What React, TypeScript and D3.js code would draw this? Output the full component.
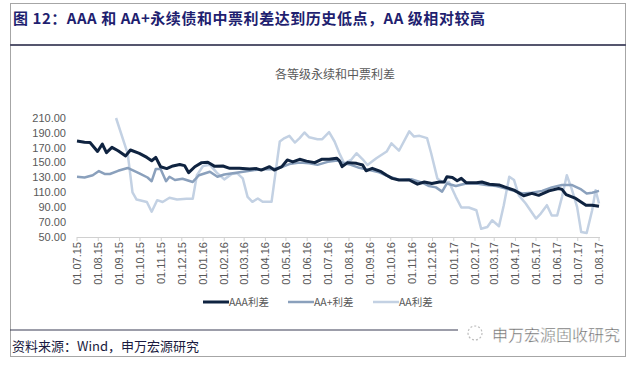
import React from "react";
import * as d3 from "d3";

// Spread data (bp)
const aaaSpread: [string, number][] = [
  ["2015-07-01", 179], ["2015-07-12", 177.5], ["2015-07-20", 177], ["2015-07-31", 165],
  ["2015-08-07", 175], ["2015-08-13", 163.5], ["2015-08-21", 170.5], ["2015-08-30", 166],
  ["2015-09-10", 159], ["2015-09-17", 167], ["2015-09-30", 162.5], ["2015-10-11", 157],
  ["2015-10-18", 152.5], ["2015-10-24", 157], ["2015-10-31", 144.5], ["2015-11-09", 142],
  ["2015-11-18", 145.5], ["2015-11-28", 147.5], ["2015-12-05", 146], ["2015-12-11", 136.5],
  ["2015-12-20", 144.5], ["2015-12-30", 150], ["2016-01-08", 150.5], ["2016-01-18", 145],
  ["2016-01-30", 145.5], ["2016-02-09", 142.3], ["2016-02-23", 142.3], ["2016-03-09", 141.4],
  ["2016-03-19", 142], ["2016-03-26", 140], ["2016-04-07", 144.6], ["2016-04-14", 140],
  ["2016-04-25", 144.6], ["2016-05-03", 153.6], ["2016-05-11", 151], ["2016-05-21", 154.5],
  ["2016-05-31", 152], ["2016-06-12", 150], ["2016-06-22", 154.5], ["2016-07-03", 154.5],
  ["2016-07-14", 156], ["2016-07-18", 152.7], ["2016-07-22", 144.6], ["2016-07-30", 150],
  ["2016-08-12", 149], ["2016-08-21", 146.8], ["2016-08-26", 139], ["2016-09-04", 142.3],
  ["2016-09-17", 137.8], ["2016-09-25", 133], ["2016-10-03", 128.8], ["2016-10-13", 126.6],
  ["2016-10-28", 126.6], ["2016-11-09", 121], ["2016-11-19", 124], ["2016-11-30", 122],
  ["2016-12-11", 124], ["2016-12-18", 124], ["2016-12-22", 131], ["2016-12-30", 130],
  ["2017-01-06", 125.7], ["2017-01-12", 128.8], ["2017-01-19", 123], ["2017-02-03", 123],
  ["2017-02-11", 124], ["2017-02-22", 121], ["2017-03-08", 120], ["2017-03-18", 116.7],
  ["2017-03-30", 113], ["2017-04-13", 105.4], ["2017-04-25", 108.6], ["2017-05-05", 106],
  ["2017-05-20", 112], ["2017-06-03", 115.3], ["2017-06-08", 114], ["2017-06-14", 107],
  ["2017-06-28", 101.8], ["2017-07-13", 92.8], ["2017-07-22", 92.8], ["2017-08-01", 91.4],
];

const aaPlusSpread: [string, number][] = [
  ["2015-07-01", 131], ["2015-07-12", 130], ["2015-07-24", 133], ["2015-08-02", 138.7],
  ["2015-08-11", 134.7], ["2015-08-18", 134.7], ["2015-08-30", 139], ["2015-09-13", 142.8],
  ["2015-09-30", 135.6], ["2015-10-12", 130], ["2015-10-18", 125], ["2015-10-24", 141.4],
  ["2015-10-31", 141.4], ["2015-11-08", 125], ["2015-11-13", 131], ["2015-11-21", 126.6],
  ["2015-12-02", 128.4], ["2015-12-17", 124], ["2015-12-26", 133], ["2016-01-11", 137.8],
  ["2016-01-22", 131], ["2016-02-01", 134], ["2016-02-16", 136], ["2016-03-02", 138],
  ["2016-03-16", 140], ["2016-03-31", 141], ["2016-04-10", 141], ["2016-04-22", 143],
  ["2016-05-06", 148], ["2016-05-21", 150], ["2016-06-04", 149], ["2016-06-16", 147],
  ["2016-07-01", 151], ["2016-07-15", 153], ["2016-07-25", 149], ["2016-08-04", 147],
  ["2016-08-16", 143], ["2016-08-31", 140], ["2016-09-14", 137], ["2016-09-29", 131],
  ["2016-10-13", 127], ["2016-11-01", 127.5], ["2016-11-16", 123], ["2016-11-26", 118.5],
  ["2016-12-06", 116.7], ["2016-12-15", 111], ["2016-12-22", 122], ["2017-01-04", 118.5],
  ["2017-01-19", 122], ["2017-02-03", 122], ["2017-02-17", 120], ["2017-03-04", 118.5],
  ["2017-03-18", 115.3], ["2017-03-30", 112], ["2017-04-11", 108.6], ["2017-04-25", 109.5],
  ["2017-05-10", 112], ["2017-05-24", 116.7], ["2017-06-08", 120], ["2017-06-22", 120],
  ["2017-07-06", 114], ["2017-07-14", 108.6], ["2017-07-22", 109.5], ["2017-08-01", 112],
];

const aaSpread: [string, number][] = [
  ["2015-08-27", 210], ["2015-09-13", 162], ["2015-09-20", 110], ["2015-09-26", 100.4],
  ["2015-10-11", 97], ["2015-10-18", 84], ["2015-10-26", 99.5], ["2015-11-03", 97],
  ["2015-11-13", 102.7], ["2015-11-24", 100.4], ["2015-12-08", 101.4], ["2015-12-17", 101.4],
  ["2015-12-23", 133], ["2016-01-01", 145.5], ["2016-01-11", 147], ["2016-01-21", 136.5],
  ["2016-02-01", 127.5], ["2016-02-12", 134.7], ["2016-02-20", 135.6], ["2016-02-28", 128.8],
  ["2016-03-06", 104], ["2016-03-13", 97.3], ["2016-03-21", 101.8], ["2016-03-28", 97.3],
  ["2016-04-10", 97.3], ["2016-04-17", 144.6], ["2016-04-22", 178.4], ["2016-04-29", 183],
  ["2016-05-06", 186], ["2016-05-14", 177], ["2016-05-21", 183], ["2016-05-28", 190.5],
  ["2016-06-04", 184], ["2016-06-16", 181.5], ["2016-06-23", 181.5], ["2016-07-03", 191],
  ["2016-07-11", 178.4], ["2016-07-18", 162.6], ["2016-07-25", 149], ["2016-08-04", 153.6],
  ["2016-08-12", 162.6], ["2016-08-21", 154.5], ["2016-08-28", 146.8], ["2016-09-10", 155.9],
  ["2016-09-25", 164.9], ["2016-10-02", 176], ["2016-10-13", 166], ["2016-10-28", 192],
  ["2016-11-04", 185], ["2016-11-12", 186], ["2016-11-23", 183], ["2016-11-29", 162.6],
  ["2016-12-08", 128.8], ["2016-12-15", 124], ["2016-12-25", 124], ["2017-01-04", 104],
  ["2017-01-12", 89.6], ["2017-01-23", 89.6], ["2017-02-03", 86], ["2017-02-10", 61],
  ["2017-02-19", 63.5], ["2017-02-26", 72.5], ["2017-03-08", 64.4], ["2017-03-15", 92.8],
  ["2017-03-23", 131], ["2017-03-30", 126.6], ["2017-04-06", 106], ["2017-04-16", 95],
  ["2017-05-01", 74.8], ["2017-05-08", 81.5], ["2017-05-17", 92.8], ["2017-05-24", 79],
  ["2017-06-01", 79], ["2017-06-08", 104], ["2017-06-15", 133], ["2017-06-22", 115],
  ["2017-06-30", 90.5], ["2017-07-06", 56.8], ["2017-07-14", 55.4], ["2017-07-22", 86],
  ["2017-07-27", 113], ["2017-08-01", 95],
];

const seriesNames = ["AAA利差", "AA+利差", "AA利差"];
const seriesColors = ["#0f2340", "#8aa0bc", "#c3d1e3"];
const seriesWidths = [3, 2.5, 2.5];
const yTicks = [50, 70, 90, 110, 130, 150, 170, 190, 210];

const titleText = "图 12：AAA 和 AA+永续债和中票利差达到历史低点，AA 级相对较高";
const chartTitle = "各等级永续和中票利差";
const sourceText = "资料来源：Wind，申万宏源研究";
const watermark = "申万宏源固收研究";

const parse = d3.timeParse("%Y-%m-%d");
const fmt = d3.timeFormat("%d.%m.%y");

const App: React.FC = () => {
  const width = 640;
  const height = 365;
  const x = d3
    .scaleTime()
    .domain([parse("2015-07-01")!, parse("2017-08-01")!])
    .range([77, 599]);
  const y = d3.scaleLinear().domain([50, 210]).range([237, 118]);

  const line = d3
    .line<[string, number]>()
    .x((d) => x(parse(d[0])!))
    .y((d) => y(d[1]));

  const all = [aaaSpread, aaPlusSpread, aaSpread];
  const monthTicks = d3.timeMonth.range(parse("2015-07-01")!, parse("2017-08-02")!);
  const axisFont = "Liberation Sans, Arial, sans-serif";
  const cjkFont = "'Noto Sans CJK SC', sans-serif";

  const legendX = [203, 288, 373];

  return (
    <div style={{ position: "absolute", left: 0, top: 0 }}>
      <svg width={width} height={height} style={{ display: "block", background: "#fff" }}>
        {/* frame */}
        <rect x={10.5} y={3.5} width={615} height={353} fill="none" stroke="#a6a6a6" strokeWidth={1} />
        <line x1={10} x2={626} y1={45} y2={45} stroke="#55566e" strokeWidth={2} />
        <line x1={10} x2={458} y1={330} y2={330} stroke="#3b3c55" strokeWidth={1.2} />

        <text x={13} y={24} fontFamily={cjkFont} fontWeight="bold" fontSize={15} fill="#1f1f70" textLength={472}>
          {titleText}
        </text>

        <text x={335} y={79} textAnchor="middle" fontFamily={cjkFont} fontSize={12} fill="#595959">
          {chartTitle}
        </text>

        {/* y labels */}
        {yTicks.map((t) => (
          <text key={t} x={66} y={y(t)} dy="0.35em" textAnchor="end" fontFamily={axisFont} fontSize={11} fill="#595959">
            {t.toFixed(2)}
          </text>
        ))}

        {/* x axis */}
        <line x1={77} x2={600} y1={237.5} y2={237.5} stroke="#d0d0d0" strokeWidth={1} />
        {monthTicks.map((d) => (
          <g key={d.toISOString()} transform={`translate(${x(d)},237)`}>
            <line y1={0} y2={4} stroke="#d0d0d0" />
            <text
              transform="translate(0,5) rotate(-90)"
              dy="0.35em"
              textAnchor="end"
              fontFamily={axisFont}
              fontSize={11}
              fill="#595959"
            >
              {fmt(d)}
            </text>
          </g>
        ))}

        {/* lines, AA drawn first so dark sits on top */}
        {[2, 1, 0].map((i) => (
          <path
            key={i}
            d={line(all[i])!}
            fill="none"
            stroke={seriesColors[i]}
            strokeWidth={seriesWidths[i]}
            strokeLinejoin="round"
          />
        ))}

        {/* legend */}
        {seriesNames.map((n, i) => (
          <g key={n} transform={`translate(${legendX[i]},302)`}>
            <line x1={0} x2={26} stroke={seriesColors[i]} strokeWidth={seriesWidths[i]} />
            <text x={26} dy="0.35em" fontFamily={cjkFont} fontSize={10.5} fill="#595959">
              {n}
            </text>
          </g>
        ))}

        <text x={12} y={351} fontFamily={cjkFont} fontSize={13} fill="#1a1a40">
          {sourceText}
        </text>

        {/* watermark */}
        <circle cx={475} cy={333} r={7} fill="none" stroke="#bdbdbd" strokeWidth={1.2} strokeDasharray="2 2" />
        <text x={492} y={341} fontFamily={cjkFont} fontSize={16} fill="#6a6a6a" stroke="#ffffff" strokeWidth={0.4} textLength={128}>
          {watermark}
        </text>
      </svg>
    </div>
  );
};

export default App;
